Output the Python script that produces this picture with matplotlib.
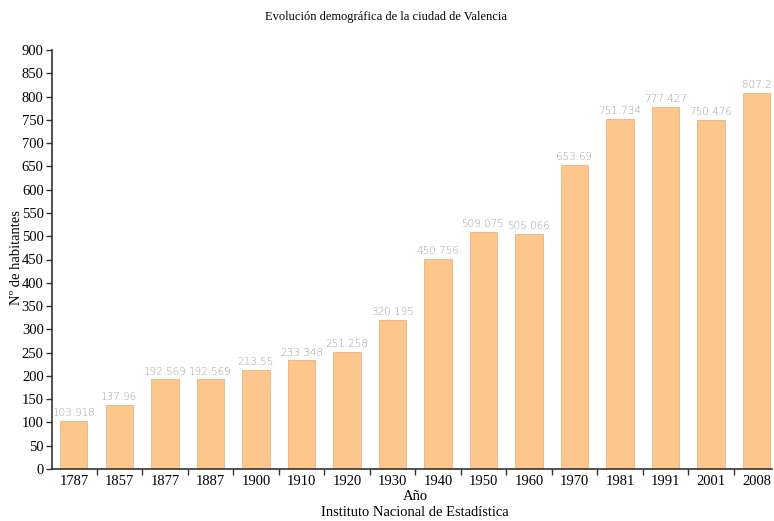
import numpy as np
import matplotlib.pyplot as plt
from matplotlib.ticker import FixedLocator

years = ["1787", "1857", "1877", "1887", "1900", "1910", "1920", "1930",
         "1940", "1950", "1960", "1970", "1981", "1991", "2001", "2008"]
population = [103.918, 137.96, 192.569, 192.569, 213.55, 233.348, 251.258, 320.195,
              450.756, 509.075, 505.066, 653.69, 751.734, 777.427, 750.476, 807.2]
labels = ["103.918", "137.96", "192.569", "192.569", "213.55", "233.348", "251.258", "320.195",
          "450.756", "509.075", "505.066", "653.69", "751.734", "777.427", "750.476", "807.2"]

plt.rcParams['font.family'] = ['Liberation Serif', 'DejaVu Serif']

fig = plt.figure(figsize=(7.74, 5.21), dpi=100)
ax = fig.add_axes([52/774, 1 - 469/521, 720/774, (469 - 50)/521])

x = np.arange(len(years))
ax.bar(x, population, width=0.6, color='#fdc68d', edgecolor='#e9b47c', linewidth=0.6)

for xi, v, lab in zip(x, population, labels):
    ax.text(xi, v + 6, lab, ha='center', va='bottom', fontsize=7.5,
            color='#a0a0a0', family='DejaVu Sans', fontweight='light')

ax.set_xlim(-0.48, len(years) - 0.66)
ax.set_ylim(0, 900)
ax.set_yticks(np.arange(0, 901, 50))
ax.set_xticks(x)
ax.set_xticklabels(years, fontsize=10.5)
ax.xaxis.set_minor_locator(FixedLocator(x[:-1] + 0.5))
ax.tick_params(axis='x', which='major', length=0, pad=4)
ax.tick_params(axis='x', which='minor', length=4, width=1, color='#333333')
ax.tick_params(axis='y', labelsize=10.5, length=4, width=1, color='#333333', pad=2)

for s in ['top', 'right']:
    ax.spines[s].set_visible(False)
for s in ['left', 'bottom']:
    ax.spines[s].set_color('#333333')
    ax.spines[s].set_linewidth(1.2)

fig.text(17/774, 1 - 258/521, "Nº de habitantes", rotation=90,
         ha='center', va='center', fontsize=10.5)
fig.text(415/774, 1 - 497/521, "Año", ha='center', va='center', fontsize=10.5)
fig.text(415/774, 1 - 512/521, "Instituto Nacional de Estadística",
         ha='center', va='center', fontsize=10.5)
fig.text(386/774, 1 - 17/521, "Evolución demográfica de la ciudad de Valencia",
         ha='center', va='center', fontsize=9)

fig.savefig("out.png", dpi=100)
